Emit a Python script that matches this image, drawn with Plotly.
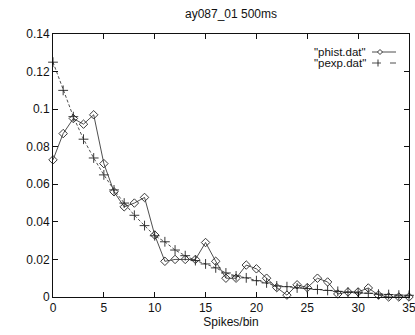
import plotly.graph_objects as go

spikes = list(range(36))
phist = [0.073, 0.087, 0.095, 0.092, 0.097, 0.071, 0.056, 0.048, 0.050, 0.053,
         0.033, 0.019, 0.020, 0.020, 0.020, 0.029, 0.019, 0.010, 0.010, 0.017,
         0.015, 0.010, 0.005, 0.001, 0.0065, 0.005, 0.010, 0.008, 0.0016, 0.0027,
         0.0027, 0.0048, 0.001, 0.0, 0.0, 0.0]
pexp = [0.125, 0.110, 0.096, 0.084, 0.074, 0.065, 0.057, 0.050, 0.0435, 0.038,
        0.0326, 0.0294, 0.025, 0.022, 0.0194, 0.0176, 0.0155, 0.0128, 0.0112, 0.0102,
        0.0087, 0.0075, 0.0059, 0.0055, 0.0048, 0.0045, 0.0040, 0.0035, 0.0030, 0.0025,
        0.0022, 0.0020, 0.0015, 0.0013, 0.0010, 0.0009]
title = "ay087_01 500ms"
xlabel = "Spikes/bin"
names = ['"phist.dat"', '"pexp.dat"']

FONT = "Liberation Sans, Arial, sans-serif"
LC = "#222222"

fig = go.Figure()
fig.add_trace(go.Scatter(x=spikes, y=phist, mode="lines+markers", name=names[0],
                         line=dict(color=LC, width=0.8),
                         marker=dict(symbol="diamond-open", size=6.5, color=LC,
                                     line=dict(width=0.9, color=LC)),
                         cliponaxis=False, showlegend=False))
fig.add_trace(go.Scatter(x=spikes, y=pexp, mode="lines+markers", name=names[1],
                         line=dict(color=LC, width=0.8, dash="3px,2px"),
                         marker=dict(symbol="cross-thin", size=7, color=LC,
                                     line=dict(width=0.9, color=LC)),
                         cliponaxis=False, showlegend=False))

# manual legend (gnuplot style: text then sample)
L, R, T, B = 53, 6, 34, 38
W, H = 415, 335
pw, ph = W - L - R, H - T - B


def px(xp):
    return (xp - L) / pw


def py(yp):
    return (H - B - yp) / ph


legend_rows = [(52, "phist"), (63, "pexp")]
annotations = []
shapes = []
for (yp, kind), nm in zip(legend_rows, names):
    annotations.append(dict(x=px(367), y=py(yp), xref="paper", yref="paper",
                            text=nm, showarrow=False, xanchor="right", yanchor="middle",
                            borderpad=0,
                            font=dict(family=FONT, size=11.5, color="#111")))
    dash = "solid" if kind == "phist" else "dash"
    shapes.append(dict(type="line", xref="paper", yref="paper",
                       x0=px(372), x1=px(396), y0=py(yp), y1=py(yp),
                       line=dict(color=LC, width=0.8, dash=dash)))
    if kind == "phist":
        cx, cy = 380, yp
        d = 2.5
        shapes.append(dict(type="path", xref="paper", yref="paper",
                           path=f"M {px(cx)} {py(cy-d)} L {px(cx+d)} {py(cy)} L {px(cx)} {py(cy+d)} L {px(cx-d)} {py(cy)} Z",
                           line=dict(color=LC, width=0.9), fillcolor="white"))
    else:
        cx, cy = 378, yp
        d = 3.5
        shapes.append(dict(type="line", xref="paper", yref="paper",
                           x0=px(cx), x1=px(cx), y0=py(cy - d), y1=py(cy + d),
                           line=dict(color=LC, width=0.9)))

fig.update_layout(
    width=W, height=H,
    margin=dict(l=L, r=R, t=T, b=B),
    paper_bgcolor="white", plot_bgcolor="white",
    font=dict(family=FONT, size=12, color="#111"),
    title=dict(text=title, x=(L + pw / 2) / W, xanchor="center", y=1 - 14 / H,
               yanchor="middle", font=dict(family=FONT, size=12, color="#111")),
    annotations=annotations,
    shapes=shapes,
)
fig.update_xaxes(range=[0, 35], dtick=5, tick0=0, showgrid=False, zeroline=False,
                 showline=True, linecolor="#111", linewidth=1, mirror="ticks",
                 ticks="inside", ticklen=5, tickcolor="#111",
                 ticklabeloverflow="allow", automargin=False,
                 title=dict(text=xlabel, standoff=2, font=dict(family=FONT, size=12)))
fig.update_yaxes(range=[0, 0.14], dtick=0.02, tick0=0, showgrid=False, zeroline=False,
                 showline=True, linecolor="#111", linewidth=1, mirror="ticks",
                 ticks="inside", ticklen=5, tickcolor="#111", automargin=False)

fig.write_html("out.html")
